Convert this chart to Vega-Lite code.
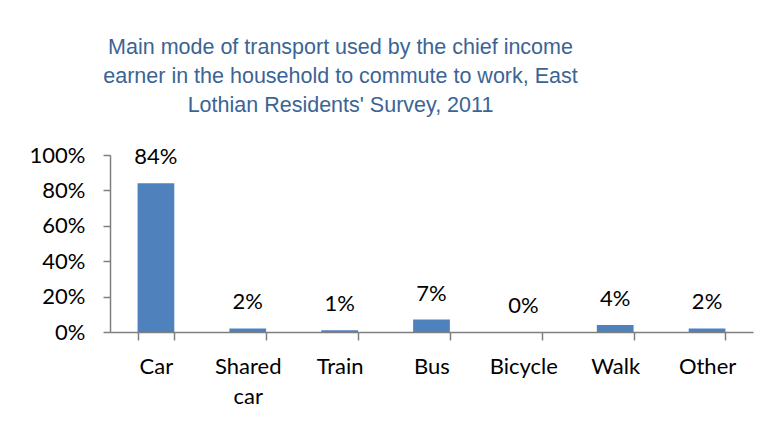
{
  "$schema": "https://vega.github.io/schema/vega-lite/v6.json",
  "autosize": "none",
  "width": 643,
  "height": 177,
  "padding": {"left": 110, "top": 155, "right": 23, "bottom": 93},
  "background": "white",
  "title": {
    "text": ["Main mode of transport used by the chief income", "earner in the household to commute to work, East", "Lothian Residents' Survey, 2011"],
    "font": "Liberation Sans",
    "fontSize": 21.5,
    "fontWeight": "normal",
    "color": "#3B6495",
    "lineHeight": 29,
    "anchor": "middle",
    "frame": "group",
    "dx": -91,
    "offset": 28
  },
  "data": {
    "values": [
      {"mode": "Car", "share": 0.84},
      {"mode": "Shared car", "share": 0.02},
      {"mode": "Train", "share": 0.01},
      {"mode": "Bus", "share": 0.07},
      {"mode": "Bicycle", "share": 0.0},
      {"mode": "Walk", "share": 0.04},
      {"mode": "Other", "share": 0.02}
    ]
  },
  "encoding": {
    "x": {
      "field": "mode",
      "type": "nominal",
      "sort": null,
      "scale": {"paddingInner": 0.6, "paddingOuter": 0.3},
      "axis": {
        "title": null,
        "labelAngle": 0,
        "labelFont": "Lato",
        "labelFontSize": 22,
        "labelColor": "#000000",
        "labelExpr": "split(datum.label, ' ')",
        "labelLineHeight": 30,
        "labelPadding": 16,
        "ticks": true,
        "tickBand": "extent",
        "tickSize": 8,
        "tickWidth": 1.5,
        "tickColor": "#7F7F7F",
        "domainColor": "#7F7F7F",
        "domainWidth": 1.5,
        "labelBaseline": "top"
      }
    },
    "y": {
      "field": "share",
      "type": "quantitative",
      "scale": {"domain": [0, 1], "nice": false},
      "axis": {
        "title": null,
        "values": [0, 0.2, 0.4, 0.6, 0.8, 1],
        "format": ".0%",
        "grid": false,
        "ticks": true,
        "labelFont": "Lato",
        "labelFontSize": 22,
        "labelColor": "#000000",
        "labelPadding": 18,
        "tickSize": 7,
        "tickWidth": 1.5,
        "tickColor": "#7F7F7F",
        "domainColor": "#7F7F7F",
        "domainWidth": 1.5
      }
    }
  },
  "layer": [
    {"mark": {"type": "bar", "color": "#4F81BD"}},
    {
      "mark": {"type": "text", "font": "Lato", "fontSize": 22, "color": "#000000", "baseline": "alphabetic", "dy": -19},
      "encoding": {"text": {"field": "share", "type": "quantitative", "format": ".0%"}}
    }
  ],
  "config": {"view": {"stroke": null}}
}
